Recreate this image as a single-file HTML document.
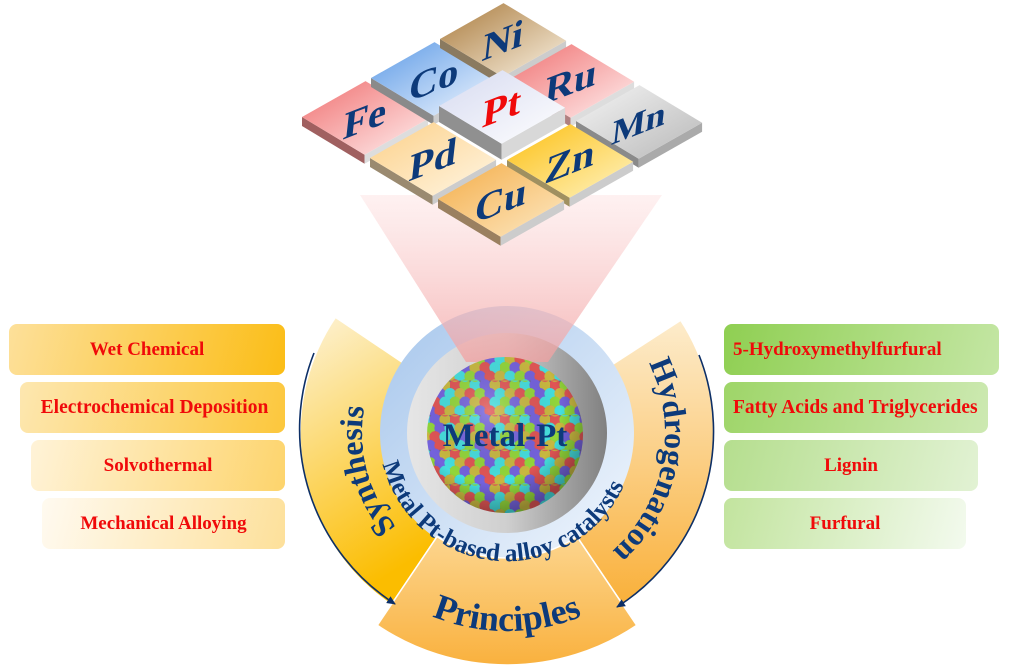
<!DOCTYPE html>
<html><head><meta charset="utf-8"><style>
html,body{margin:0;padding:0;background:#fff;}
body{width:1029px;height:668px;position:relative;overflow:hidden;font-family:"Liberation Serif",serif;}
.b{position:absolute;height:51px;border-radius:8px;color:#f00a0a;font-weight:bold;font-size:19px;line-height:51px;white-space:nowrap;}
.l{text-align:center;}
.r{left:724px;}
svg{position:absolute;left:0;top:0;}
</style></head><body>
<div class="b l" style="left:9px;width:276px;top:324px;background:linear-gradient(105deg,#fde09a,#fbbd16);">Wet Chemical</div>
<div class="b l" style="left:20px;width:265px;top:382px;background:linear-gradient(105deg,#fde7b0,#fcc73c);font-size:19.5px;"><span style="margin-left:4px">Electrochemical Deposition</span></div>
<div class="b l" style="left:31px;width:254px;top:440px;background:linear-gradient(105deg,#fff3d8,#fdd46c);">Solvothermal</div>
<div class="b l" style="left:42px;width:243px;top:498px;background:linear-gradient(105deg,#fffaf0,#fde09a);">Mechanical Alloying</div>
<div class="b r" style="width:275px;top:324px;background:linear-gradient(105deg,#8fcf52,#c4e6a4);padding-left:9px;box-sizing:border-box;">5-Hydroxymethylfurfural</div>
<div class="b r" style="width:264px;top:382px;background:linear-gradient(105deg,#9ed568,#cde9b2);padding-left:9px;box-sizing:border-box;overflow:visible;font-size:19.5px;">Fatty Acids and Triglycerides</div>
<div class="b r" style="width:254px;top:440px;background:linear-gradient(105deg,#b5de8e,#e2f2d4);text-align:center;">Lignin</div>
<div class="b r" style="width:242px;top:498px;background:linear-gradient(105deg,#c2e49e,#f3faee);text-align:center;">Furfural</div>

<svg width="1029" height="668" viewBox="0 0 1029 668" font-family="Liberation Serif, serif" font-weight="bold">
<defs>
<linearGradient id="gSyn" x1="0" y1="0" x2="0.3" y2="1"><stop offset="0" stop-color="#fdf3d8"/><stop offset="1" stop-color="#fbbd00"/></linearGradient>
<linearGradient id="gPri" x1="0" y1="0" x2="0" y2="1"><stop offset="0" stop-color="#fcd58e"/><stop offset="1" stop-color="#f9b13e"/></linearGradient>
<linearGradient id="gHyd" x1="0" y1="0" x2="0" y2="1"><stop offset="0" stop-color="#fdeccc"/><stop offset="1" stop-color="#f9b03a"/></linearGradient>
<linearGradient id="gBlue" x1="0" y1="0" x2="1" y2="1"><stop offset="0" stop-color="#a6c6ec"/><stop offset="1" stop-color="#f2f7fd"/></linearGradient>
<linearGradient id="gGray" x1="0" y1="0" x2="1" y2="0"><stop offset="0" stop-color="#e6e6e6"/><stop offset="0.5" stop-color="#cfcfcf"/><stop offset="1" stop-color="#808080"/></linearGradient>
<linearGradient id="gCone" x1="0" y1="0" x2="0" y2="1"><stop offset="0" stop-color="#fde3e3" stop-opacity="0.5"/><stop offset="1" stop-color="#f2a0a0" stop-opacity="0.75"/></linearGradient>
<radialGradient id="gShade" cx="0.4" cy="0.35" r="0.65"><stop offset="0" stop-color="#fff" stop-opacity="0.2"/><stop offset="0.7" stop-color="#000" stop-opacity="0"/><stop offset="1" stop-color="#000" stop-opacity="0.3"/></radialGradient>
<pattern id="balls" width="50" height="34.6" patternUnits="userSpaceOnUse">
<rect width="50" height="34.6" fill="#6a6a8a"/>
<circle cx="5" cy="4.3" r="5.6" fill="#e05555"/><circle cx="15" cy="4.3" r="5.6" fill="#92d63a"/><circle cx="25" cy="4.3" r="5.6" fill="#45dede"/><circle cx="35" cy="4.3" r="5.6" fill="#7462dc"/><circle cx="45" cy="4.3" r="5.6" fill="#c8b840"/>
<circle cx="0" cy="13" r="5.6" fill="#45dede"/><circle cx="10" cy="13" r="5.6" fill="#c8b840"/><circle cx="20" cy="13" r="5.6" fill="#e05555"/><circle cx="30" cy="13" r="5.6" fill="#92d63a"/><circle cx="40" cy="13" r="5.6" fill="#7462dc"/><circle cx="50" cy="13" r="5.6" fill="#45dede"/>
<circle cx="5" cy="21.6" r="5.6" fill="#92d63a"/><circle cx="15" cy="21.6" r="5.6" fill="#7462dc"/><circle cx="25" cy="21.6" r="5.6" fill="#c8b840"/><circle cx="35" cy="21.6" r="5.6" fill="#e05555"/><circle cx="45" cy="21.6" r="5.6" fill="#45dede"/>
<circle cx="0" cy="30.3" r="5.6" fill="#c8b840"/><circle cx="10" cy="30.3" r="5.6" fill="#45dede"/><circle cx="20" cy="30.3" r="5.6" fill="#92d63a"/><circle cx="30" cy="30.3" r="5.6" fill="#7462dc"/><circle cx="40" cy="30.3" r="5.6" fill="#e05555"/><circle cx="50" cy="30.3" r="5.6" fill="#c8b840"/>
<circle cx="5" cy="38.9" r="5.6" fill="#e05555"/><circle cx="15" cy="38.9" r="5.6" fill="#92d63a"/><circle cx="25" cy="38.9" r="5.6" fill="#45dede"/><circle cx="35" cy="38.9" r="5.6" fill="#7462dc"/><circle cx="45" cy="38.9" r="5.6" fill="#c8b840"/>
<circle cx="5" cy="-4.3" r="5.6" fill="#c8b840"/><circle cx="15" cy="-4.3" r="5.6" fill="#45dede"/><circle cx="25" cy="-4.3" r="5.6" fill="#92d63a"/><circle cx="35" cy="-4.3" r="5.6" fill="#7462dc"/><circle cx="45" cy="-4.3" r="5.6" fill="#e05555"/>
</pattern>
<linearGradient id="tFe" x1="0" y1="0" x2="1" y2="1"><stop offset="0" stop-color="#f07070"/><stop offset="1" stop-color="#fff0f0"/></linearGradient>
<linearGradient id="tCo" x1="0" y1="0" x2="1" y2="1"><stop offset="0" stop-color="#5c9ae6"/><stop offset="1" stop-color="#f3f8ff"/></linearGradient>
<linearGradient id="tNi" x1="0" y1="0" x2="1" y2="1"><stop offset="0" stop-color="#a97a3c"/><stop offset="1" stop-color="#fbf3e4"/></linearGradient>
<linearGradient id="tPd" x1="0" y1="0" x2="1" y2="1"><stop offset="0" stop-color="#fcd088"/><stop offset="1" stop-color="#fff6e4"/></linearGradient>
<linearGradient id="tPt" x1="0" y1="0" x2="1" y2="1"><stop offset="0" stop-color="#d6daf0"/><stop offset="1" stop-color="#ffffff"/></linearGradient>
<linearGradient id="tCu" x1="0" y1="0" x2="1" y2="1"><stop offset="0" stop-color="#f4ad48"/><stop offset="1" stop-color="#fde9c4"/></linearGradient>
<linearGradient id="tZn" x1="0" y1="0" x2="1" y2="1"><stop offset="0" stop-color="#fcbf10"/><stop offset="1" stop-color="#fff4c4"/></linearGradient>
<linearGradient id="tMn" x1="0" y1="0" x2="1" y2="1"><stop offset="0" stop-color="#f5f5f5"/><stop offset="1" stop-color="#b8b8b8"/></linearGradient>
<marker id="ah" markerWidth="10" markerHeight="10" refX="8" refY="5" orient="auto" markerUnits="userSpaceOnUse"><path d="M0,1 L9,5 L0,9 Z" fill="#0d2f66"/></marker>
<path id="pSyn" d="M413.8 544.1 A145 145 0 0 1 370.7 383.4"/>
<path id="pHyd" d="M643.8 354 A158 158 0 0 1 604.3 557.5"/>
<path id="pPri" d="M393.4 595.2 A198 198 0 0 0 620.6 595.2"/>
<path id="pMet" d="M379 433 A128 128 0 0 0 633.1 455.2"/>
</defs>

<path d="M335.4 317.3 A207 207 0 0 0 391.3 604.6 L437.1 536.6 A125 125 0 0 1 403.4 363.1 Z" fill="url(#gSyn)" stroke="#fff" stroke-width="1.5"/>
<path d="M680.7 320.2 A207 207 0 0 1 622.7 604.6 L576.9 536.6 A125 125 0 0 0 611.9 364.9 Z" fill="url(#gHyd)" stroke="#fff" stroke-width="1.5"/>
<circle cx="507" cy="433" r="127" fill="url(#gBlue)"/>
<path d="M377.3 625.3 A232 232 0 0 0 636.7 625.3 L576.9 536.6 A125 125 0 0 1 437.1 536.6 Z" fill="url(#gPri)" stroke="#fff" stroke-width="1.5"/>
<circle cx="507" cy="433" r="100" fill="url(#gGray)"/>

<path d="M314 353 A208 208 0 0 0 395 604" fill="none" stroke="#0d2f66" stroke-width="1.6" marker-end="url(#ah)"/>
<path d="M699 355 A208 208 0 0 1 617 607" fill="none" stroke="#0d2f66" stroke-width="1.6" marker-end="url(#ah)"/>

<polygon points="360,195 662,195 548,362 466,362" fill="url(#gCone)"/>

<circle cx="505" cy="435" r="78" fill="url(#balls)"/>
<circle cx="505" cy="435" r="78" fill="url(#gShade)"/>
<text x="505" y="446" font-size="33" fill="#0d3a7a" text-anchor="middle">Metal-Pt</text>

<text font-size="32" fill="#0d3a7a"><textPath href="#pSyn" startOffset="50%" text-anchor="middle">Synthesis</textPath></text>
<text font-size="32" fill="#0d3a7a"><textPath href="#pHyd" startOffset="50%" text-anchor="middle">Hydrogenation</textPath></text>
<text font-size="36" fill="#0d3a7a"><textPath href="#pPri" startOffset="50%" text-anchor="middle">Principles</textPath></text>
<text font-size="25" fill="#0d3a7a"><textPath href="#pMet" startOffset="50%" text-anchor="middle">Metal Pt-based alloy catalysts</textPath></text>

<g font-size="44">
<g transform="translate(302,117)"><polygon points="0,0 62.6,37.7 62.6,46.7 0,9" fill="#a06060"/><polygon points="62.6,37.7 126.1,1.8 126.1,10.8 62.6,46.7" fill="#ddd"/><polygon points="0,0 63.5,-35.9 126.1,1.8 62.6,37.7" fill="url(#tFe)"/><text transform="matrix(0.92,-0.36,-0.1,0.9,63,1)" y="15" text-anchor="middle" fill="#0d3a7a">Fe</text></g>
<g transform="translate(371,78)"><polygon points="0,0 62.6,37.7 62.6,46.7 0,9" fill="#8a8a8a"/><polygon points="62.6,37.7 126.1,1.8 126.1,10.8 62.6,46.7" fill="#ccc"/><polygon points="0,0 63.5,-35.9 126.1,1.8 62.6,37.7" fill="url(#tCo)"/><text transform="matrix(0.92,-0.36,-0.1,0.9,63,1)" y="15" text-anchor="middle" fill="#0d3a7a">Co</text></g>
<g transform="translate(440,39)"><polygon points="0,0 62.6,37.7 62.6,46.7 0,9" fill="#8a7a60"/><polygon points="62.6,37.7 126.1,1.8 126.1,10.8 62.6,46.7" fill="#ccc"/><polygon points="0,0 63.5,-35.9 126.1,1.8 62.6,37.7" fill="url(#tNi)"/><text transform="matrix(0.92,-0.36,-0.1,0.9,63,1)" y="15" text-anchor="middle" fill="#0d3a7a">Ni</text></g>
<g transform="translate(508,80)"><polygon points="0,0 62.6,37.7 62.6,46.7 0,9" fill="#b08080"/><polygon points="62.6,37.7 126.1,1.8 126.1,10.8 62.6,46.7" fill="#ddd"/><polygon points="0,0 63.5,-35.9 126.1,1.8 62.6,37.7" fill="url(#tFe)"/><text transform="matrix(0.92,-0.36,-0.1,0.9,63,1)" y="15" text-anchor="middle" fill="#0d3a7a">Ru</text></g>
<g transform="translate(576,121)"><polygon points="0,0 62.6,37.7 62.6,46.7 0,9" fill="#8a8a8a"/><polygon points="62.6,37.7 126.1,1.8 126.1,10.8 62.6,46.7" fill="#aaa"/><polygon points="0,0 63.5,-35.9 126.1,1.8 62.6,37.7" fill="url(#tMn)"/><text transform="matrix(0.92,-0.36,-0.1,0.9,63,1)" y="14" text-anchor="middle" fill="#0d3a7a" font-size="39">Mn</text></g>
<g transform="translate(370,158)"><polygon points="0,0 62.6,37.7 62.6,46.7 0,9" fill="#9a8a70"/><polygon points="62.6,37.7 126.1,1.8 126.1,10.8 62.6,46.7" fill="#ccc"/><polygon points="0,0 63.5,-35.9 126.1,1.8 62.6,37.7" fill="url(#tPd)"/><text transform="matrix(0.92,-0.36,-0.1,0.9,63,1)" y="15" text-anchor="middle" fill="#0d3a7a">Pd</text></g>
<g transform="translate(507,160)"><polygon points="0,0 62.6,37.7 62.6,46.7 0,9" fill="#a09060"/><polygon points="62.6,37.7 126.1,1.8 126.1,10.8 62.6,46.7" fill="#ccc"/><polygon points="0,0 63.5,-35.9 126.1,1.8 62.6,37.7" fill="url(#tZn)"/><text transform="matrix(0.92,-0.36,-0.1,0.9,63,1)" y="15" text-anchor="middle" fill="#0d3a7a">Zn</text></g>
<g transform="translate(438,199)"><polygon points="0,0 62.6,37.7 62.6,46.7 0,9" fill="#9a8060"/><polygon points="62.6,37.7 126.1,1.8 126.1,10.8 62.6,46.7" fill="#ccc"/><polygon points="0,0 63.5,-35.9 126.1,1.8 62.6,37.7" fill="url(#tCu)"/><text transform="matrix(0.92,-0.36,-0.1,0.9,63,1)" y="15" text-anchor="middle" fill="#0d3a7a">Cu</text></g>
<g transform="translate(439,106)"><polygon points="0,0 62.6,37.7 62.6,53.7 0,16" fill="#909090"/><polygon points="62.6,37.7 126.1,1.8 126.1,17.8 62.6,53.7" fill="#d8d8d8"/><polygon points="0,0 63.5,-35.9 126.1,1.8 62.6,37.7" fill="url(#tPt)"/><text transform="matrix(0.92,-0.36,-0.1,0.9,63,1)" y="15" text-anchor="middle" fill="#f00a0a">Pt</text></g>
</g>
</svg>
</body></html>
